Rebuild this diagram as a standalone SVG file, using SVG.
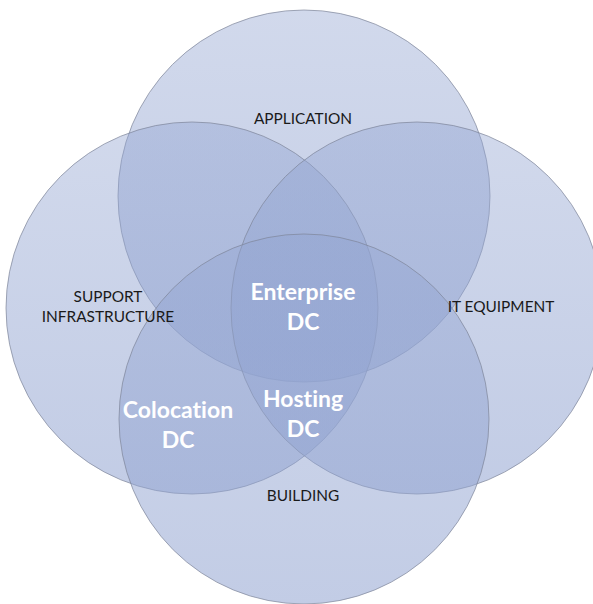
<svg xmlns="http://www.w3.org/2000/svg" width="593" height="604" viewBox="0 0 593 604">
  <defs>
    <linearGradient id="g" x1="0" y1="0" x2="0" y2="1">
      <stop offset="0" stop-color="rgb(146,164,209)" stop-opacity="0.42"/>
      <stop offset="1" stop-color="rgb(146,164,209)" stop-opacity="0.56"/>
    </linearGradient>
    <style>
      .c { fill: url(#g); stroke: #7d8498; stroke-opacity: 0.7; stroke-width: 1; }
      .lbl { font-family: Lato, "Liberation Sans", sans-serif; font-size: 15.4px; fill: #1a1a1a; text-anchor: middle; font-variant-ligatures: none; }
      .dc { font-family: Lato, "Liberation Sans", sans-serif; font-size: 23px; font-weight: bold; fill: #ffffff; text-anchor: middle; font-variant-ligatures: none; }
    </style>
  </defs>
  <rect width="593" height="604" fill="#ffffff"/>
  <g id="application">
    <circle class="c" cx="304" cy="196" r="186"/>
  </g>
  <g id="support-infrastructure">
    <circle class="c" cx="192" cy="308" r="186"/>
  </g>
  <g id="it-equipment">
    <circle class="c" cx="417" cy="308" r="186"/>
  </g>
  <g id="building">
    <circle class="c" cx="304" cy="419" r="185"/>
  </g>
  <g id="connectors"></g>
  <g id="labels">
    <text class="lbl" x="303" y="124">APPLICATION</text>
    <text class="lbl" x="108" y="302">SUPPORT</text>
    <text class="lbl" x="108" y="322">INFRASTRUCTURE</text>
    <text class="lbl" x="501" y="312">IT EQUIPMENT</text>
    <text class="lbl" x="303" y="501">BUILDING</text>
  </g>
  <g id="enterprise-dc">
    <text class="dc" x="303" y="300">Enterprise</text>
    <text class="dc" x="303" y="330">DC</text>
  </g>
  <g id="colocation-dc">
    <text class="dc" x="178" y="418">Colocation</text>
    <text class="dc" x="178" y="448">DC</text>
  </g>
  <g id="hosting-dc">
    <text class="dc" x="303" y="407">Hosting</text>
    <text class="dc" x="303" y="437">DC</text>
  </g>
</svg>
